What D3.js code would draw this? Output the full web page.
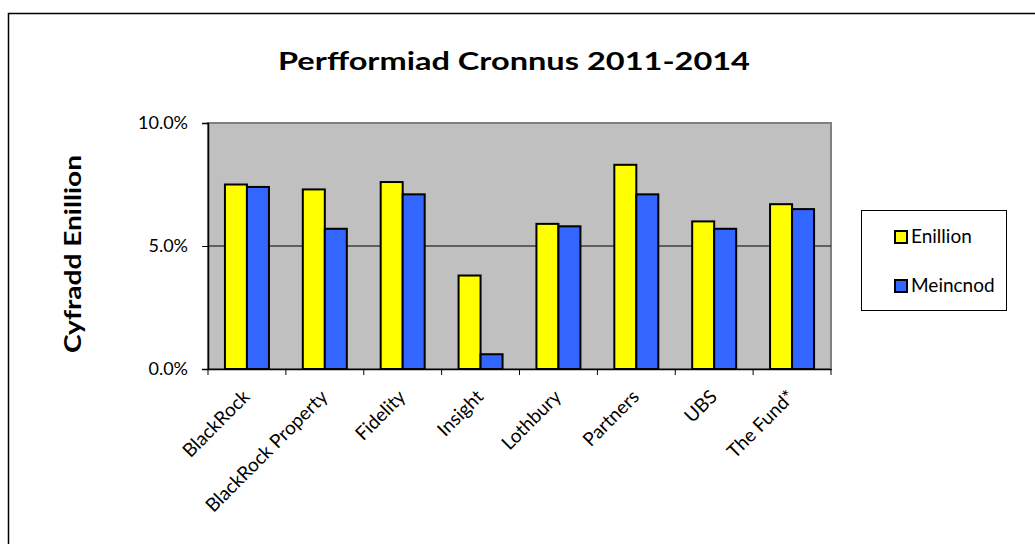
<!DOCTYPE html>
<html lang="cy">
<head>
    <meta charset="UTF-8">
    <title>Perfformiad Cronnus</title>
    <style>
        body { margin: 0; background: #fff; }
        text { font-family: "Lato", "Open Sans", sans-serif; }
    </style>
</head>
<body>
<script src="https://d3js.org/d3.v7.min.js"></script>
<script>
    let w = 1035, h = 544;

    const managers = ["BlackRock", "BlackRock Property", "Fidelity", "Insight", "Lothbury", "Partners", "UBS", "The Fund*"];
    const enillion = [7.5, 7.3, 7.6, 3.8, 5.9, 8.3, 6.0, 6.7];
    const meincnod = [7.4, 5.7, 7.1, 0.6, 5.8, 7.1, 5.7, 6.5];
    const seriesNames = ["Enillion", "Meincnod"];
    const seriesColors = ["#ffff00", "#3366ff"];
    const yTicks = [0, 5, 10];

    let plot = {left: 208, top: 123, right: 831, bottom: 369};

    let svg = d3.select("body")
        .append("svg")
        .attr("width", w)
        .attr("height", h);

    // outer frame, runs off the bottom/right edge
    svg.append("rect")
        .attr("x", 8.5).attr("y", 13.5)
        .attr("width", w + 20).attr("height", h + 20)
        .attr("fill", "none")
        .attr("stroke", "#000")
        .attr("stroke-width", 1.5);

    let x = d3.scaleBand()
        .domain(managers)
        .range([plot.left, plot.right]);

    let y = d3.scaleLinear()
        .domain([0, 10])
        .range([plot.bottom, plot.top]);

    let data = managers.map(function (m, i) {
        return {name: m, values: [enillion[i], meincnod[i]]};
    });

    // plot background
    svg.append("rect")
        .attr("x", plot.left).attr("y", plot.top)
        .attr("width", plot.right - plot.left)
        .attr("height", plot.bottom - plot.top)
        .attr("fill", "#c0c0c0")
        .attr("stroke", "#808080")
        .attr("stroke-width", 2);

    // gridline
    svg.append("line")
        .attr("x1", plot.left).attr("x2", plot.right)
        .attr("y1", y(5)).attr("y2", y(5))
        .attr("stroke", "#000").attr("stroke-width", 1);

    let barW = 22;
    let groups = svg.selectAll("g.grp")
        .data(data)
        .enter()
        .append("g")
        .attr("class", "grp");

    groups.selectAll("rect")
        .data(function (d) { return d.values.map(function (v, j) { return {v: v, j: j, name: d.name}; }); })
        .enter()
        .append("rect")
        .attr("x", function (d) { return x(d.name) + x.bandwidth() / 2 - barW + d.j * barW; })
        .attr("y", function (d) { return y(d.v); })
        .attr("width", barW)
        .attr("height", function (d) { return y(0) - y(d.v); })
        .attr("fill", function (d) { return seriesColors[d.j]; })
        .attr("stroke", "#000")
        .attr("stroke-width", 2);

    // y axis
    let yAxis = svg.append("g")
        .attr("transform", "translate(" + plot.left + ",0)")
        .call(d3.axisLeft(y).tickValues(yTicks).tickSize(6)
            .tickFormat(function (d) { return d.toFixed(1) + "%"; }));
    yAxis.select(".domain").attr("stroke", "#000").attr("stroke-width", 1.5);
    yAxis.selectAll("text").attr("font-size", 18).attr("fill", "#000")
        .attr("font-family", "Lato").attr("x", -20);

    // x axis
    let xAxis = svg.append("g")
        .attr("transform", "translate(0," + plot.bottom + ")")
        .call(d3.axisBottom(x).tickSize(0));
    xAxis.select(".domain").attr("stroke", "#000").attr("stroke-width", 1.5);
    xAxis.selectAll("text")
        .attr("font-size", 19)
        .attr("font-family", "Lato")
        .attr("fill", "#000")
        .attr("text-anchor", "end")
        .attr("dy", 0)
        .attr("y", 0)
        .attr("transform", "translate(4,29) rotate(-45)");

    // category separator ticks
    svg.selectAll("line.sep")
        .data(d3.range(managers.length + 1))
        .enter()
        .append("line")
        .attr("class", "sep")
        .attr("x1", function (i) { return plot.left + i * x.step(); })
        .attr("x2", function (i) { return plot.left + i * x.step(); })
        .attr("y1", plot.bottom)
        .attr("y2", plot.bottom + 6)
        .attr("stroke", "#000");

    // title
    svg.append("text")
        .attr("x", 514).attr("y", 70)
        .attr("text-anchor", "middle")
        .attr("font-size", 25)
        .attr("font-weight", "bold")
        .attr("textLength", 472)
        .attr("lengthAdjust", "spacingAndGlyphs")
        .text("Perfformiad Cronnus 2011-2014");

    // y title
    svg.append("text")
        .attr("transform", "translate(81,254) rotate(-90)")
        .attr("text-anchor", "middle")
        .attr("font-size", 22)
        .attr("font-weight", "bold")
        .attr("textLength", 198)
        .attr("lengthAdjust", "spacingAndGlyphs")
        .text("Cyfradd Enillion");

    // legend
    let legend = svg.append("g");
    legend.append("rect")
        .attr("x", 861.5).attr("y", 210.5)
        .attr("width", 145).attr("height", 100)
        .attr("fill", "#fff")
        .attr("stroke", "#000");

    let items = legend.selectAll("g.item")
        .data(seriesNames)
        .enter()
        .append("g")
        .attr("transform", function (d, i) { return "translate(895," + (237 + i * 49) + ")"; });
    items.append("rect")
        .attr("x", 0).attr("y", -6)
        .attr("width", 12).attr("height", 12)
        .attr("fill", function (d, i) { return seriesColors[i]; })
        .attr("stroke", "#000")
        .attr("stroke-width", 2);
    items.append("text")
        .attr("x", 16).attr("y", 6)
        .attr("font-size", 19)
        .text(function (d) { return d; });
</script>
</body>
</html>
